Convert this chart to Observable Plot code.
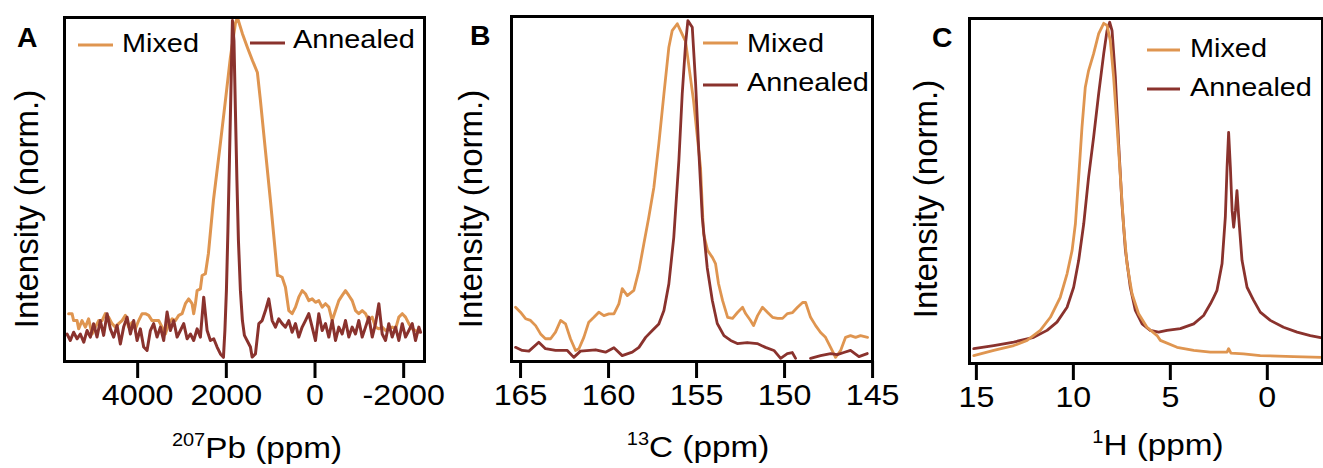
<!DOCTYPE html>
<html><head><meta charset="utf-8">
<script src="https://cdn.jsdelivr.net/npm/d3@7"></script>
<script src="https://cdn.jsdelivr.net/npm/@observablehq/plot@0.6"></script>
<style>
body{margin:0;background:#fff;overflow:hidden}
#fig{position:relative;width:1323px;height:468px}
#fig svg{position:absolute;top:0;overflow:visible}
</style>
</head><body><div id="fig"></div>
<script>
// ---------- data (ppm, normalized intensity) ----------
const seriesNames = ["Mixed", "Annealed"];
const pbTicks = [4000, 2000, 0, -2000];
const cTicks = [165, 160, 155, 150, 145];
const hTicks = [15, 10, 5, 0];

const pbMixed = [[5467,0.139],[5390,0.139],[5354,0.119],[5277,0.119],[5241,0.095],[5165,0.119],[5090,0.100],[5016,0.124],[4939,0.080],[4864,0.100],[4790,0.119],[4713,0.119],[4639,0.139],[4564,0.129],[4488,0.110],[4413,0.100],[4339,0.110],[4262,0.119],[4187,0.134],[4113,0.100],[4036,0.114],[3962,0.095],[3887,0.119],[3810,0.139],[3736,0.139],[3661,0.134],[3585,0.119],[3510,0.119],[3436,0.119],[3359,0.100],[3285,0.080],[3210,0.110],[3133,0.124],[3059,0.119],[2984,0.134],[2908,0.139],[2833,0.168],[2759,0.182],[2682,0.168],[2646,0.139],[2607,0.168],[2569,0.206],[2495,0.211],[2456,0.250],[2382,0.255],[2314,0.314],[2201,0.468],[2044,0.634],[1930,0.759],[1818,0.884],[1705,0.983],[1660,1.000],[1547,0.953],[1434,0.913],[1321,0.875],[1209,0.840],[1141,0.759],[1028,0.613],[915,0.468],[802,0.314],[757,0.250],[727,0.250],[651,0.245],[576,0.216],[501,0.148],[425,0.139],[350,0.158],[276,0.187],[199,0.206],[125,0.197],[50,0.177],[-26,0.182],[-101,0.172],[-176,0.177],[-252,0.158],[-327,0.168],[-402,0.158],[-478,0.119],[-553,0.148],[-627,0.177],[-704,0.192],[-778,0.206],[-853,0.192],[-929,0.177],[-1004,0.148],[-1078,0.139],[-1155,0.148],[-1230,0.139],[-1304,0.119],[-1381,0.129],[-1455,0.100],[-1530,0.095],[-1606,0.100],[-1681,0.090],[-1755,0.095],[-1832,0.100],[-1907,0.095],[-1981,0.129],[-2058,0.139],[-2132,0.129],[-2207,0.110],[-2283,0.095],[-2357,0.090],[-2432,0.085]];

const pbAnnealed = [[5503,0.080],[5429,0.061],[5354,0.085],[5277,0.066],[5203,0.080],[5126,0.056],[5052,0.090],[4977,0.071],[4903,0.110],[4826,0.071],[4752,0.119],[4677,0.076],[4600,0.139],[4526,0.095],[4451,0.071],[4375,0.105],[4300,0.051],[4226,0.100],[4149,0.129],[4074,0.080],[4000,0.119],[3923,0.061],[3849,0.095],[3774,0.042],[3698,0.032],[3623,0.090],[3549,0.110],[3472,0.071],[3397,0.100],[3323,0.061],[3246,0.144],[3172,0.090],[3097,0.119],[3020,0.071],[2946,0.090],[2871,0.110],[2795,0.066],[2720,0.080],[2646,0.061],[2569,0.095],[2495,0.071],[2420,0.187],[2343,0.090],[2269,0.061],[2194,0.066],[2118,0.042],[2043,0.022],[1975,0.012],[1942,0.090],[1908,0.206],[1874,0.381],[1840,0.584],[1806,0.788],[1772,0.991],[1738,0.933],[1705,0.730],[1671,0.526],[1637,0.352],[1592,0.206],[1547,0.119],[1502,0.076],[1366,0.042],[1328,0.013],[1253,0.022],[1177,0.110],[1102,0.119],[1027,0.148],[953,0.182],[876,0.119],[802,0.100],[727,0.124],[651,0.110],[576,0.100],[501,0.119],[425,0.085],[350,0.110],[276,0.071],[199,0.100],[125,0.119],[50,0.139],[-26,0.100],[-101,0.061],[-176,0.139],[-252,0.090],[-327,0.110],[-402,0.071],[-478,0.119],[-553,0.061],[-627,0.100],[-704,0.080],[-778,0.119],[-853,0.071],[-929,0.100],[-1004,0.080],[-1078,0.119],[-1155,0.071],[-1230,0.100],[-1304,0.129],[-1381,0.071],[-1455,0.110],[-1530,0.168],[-1606,0.080],[-1681,0.061],[-1755,0.110],[-1832,0.071],[-1907,0.100],[-1981,0.061],[-2058,0.110],[-2132,0.071],[-2207,0.090],[-2283,0.110],[-2357,0.061],[-2432,0.100],[-2471,0.085]];

const cMixed = [[165.00,0.157],[164.72,0.143],[164.43,0.124],[164.15,0.119],[163.86,0.104],[163.58,0.080],[163.30,0.066],[163.01,0.066],[162.73,0.085],[162.44,0.119],[162.16,0.109],[161.88,0.066],[161.59,0.032],[161.40,0.037],[161.12,0.070],[160.84,0.114],[160.55,0.128],[160.27,0.143],[159.98,0.133],[159.70,0.138],[159.41,0.138],[159.13,0.167],[158.94,0.211],[158.65,0.191],[158.28,0.206],[157.99,0.264],[157.71,0.341],[157.43,0.418],[157.14,0.505],[156.86,0.631],[156.57,0.776],[156.29,0.911],[156.10,0.959],[155.81,0.979],[155.63,0.959],[155.34,0.928],[154.89,0.757],[154.49,0.562],[154.32,0.371],[154.09,0.322],[153.81,0.301],[153.64,0.284],[153.47,0.226],[153.24,0.177],[152.95,0.128],[152.67,0.125],[152.39,0.142],[152.10,0.157],[151.93,0.139],[151.65,0.119],[151.48,0.104],[151.25,0.133],[150.97,0.157],[150.68,0.142],[150.40,0.128],[150.11,0.125],[149.83,0.125],[149.55,0.139],[149.26,0.142],[148.98,0.157],[148.69,0.171],[148.52,0.171],[148.24,0.128],[147.95,0.104],[147.67,0.084],[147.39,0.070],[147.10,0.041],[146.82,0.012],[146.53,0.032],[146.25,0.070],[145.97,0.075],[145.68,0.070],[145.40,0.075],[145.00,0.070]];

const cAnnealed = [[165.00,0.041],[164.62,0.032],[164.24,0.030],[163.68,0.056],[163.30,0.037],[162.73,0.032],[162.06,0.032],[161.69,0.012],[161.31,0.030],[160.45,0.034],[159.89,0.027],[159.41,0.040],[158.94,0.017],[158.37,0.027],[157.99,0.041],[157.61,0.070],[157.23,0.090],[156.86,0.109],[156.57,0.148],[156.29,0.225],[156.01,0.360],[155.72,0.583],[155.53,0.776],[155.34,0.921],[155.21,0.988],[154.96,0.969],[154.77,0.806],[154.59,0.612],[154.39,0.417],[154.11,0.272],[153.82,0.177],[153.54,0.110],[153.16,0.075],[152.78,0.061],[152.40,0.052],[151.84,0.055],[151.27,0.052],[150.80,0.041],[150.32,0.032],[149.94,0.009],[149.56,0.023],[149.28,0.026],[149.09,0.009],[148.70,null],[148.24,0.009],[147.67,0.017],[147.10,0.023],[146.72,0.020],[146.35,0.026],[145.97,0.032],[145.49,0.014],[145.02,0.023]];

const hMixed = [[14.98,0.023],[13.95,0.038],[12.92,0.052],[12.23,0.067],[11.55,0.096],[11.03,0.134],[10.52,0.192],[10.17,0.260],[9.91,0.328],[9.74,0.405],[9.57,0.540],[9.40,0.685],[9.23,0.801],[9.06,0.849],[8.80,0.898],[8.54,0.956],[8.28,0.986],[8.11,0.980],[7.94,0.936],[7.77,0.830],[7.59,0.685],[7.42,0.540],[7.25,0.395],[7.08,0.289],[6.82,0.202],[6.48,0.144],[6.05,0.105],[5.53,0.081],[5.36,0.067],[4.50,0.047],[3.64,0.038],[2.78,0.033],[1.92,0.033],[1.84,0.043],[1.72,0.030],[1.07,0.028],[0.21,0.023],[-1.51,0.020],[-2.97,0.018]];

const hAnnealed = [[14.98,0.043],[13.95,0.052],[12.92,0.062],[11.89,0.076],[11.20,0.096],[10.69,0.120],[10.17,0.163],[9.83,0.221],[9.57,0.299],[9.31,0.405],[9.06,0.540],[8.80,0.656],[8.54,0.782],[8.28,0.898],[8.11,0.965],[7.97,0.989],[7.85,0.965],[7.68,0.830],[7.51,0.637],[7.34,0.463],[7.16,0.328],[6.91,0.221],[6.65,0.154],[6.30,0.115],[5.88,0.096],[5.45,0.091],[5.02,0.096],[4.33,0.101],[3.64,0.115],[3.13,0.139],[2.78,0.173],[2.61,0.192],[2.44,0.212],[2.18,0.289],[2.01,0.424],[1.92,0.569],[1.84,0.670],[1.75,0.569],[1.66,0.443],[1.58,0.395],[1.49,0.443],[1.41,0.501],[1.32,0.424],[1.15,0.299],[0.89,0.221],[0.63,0.192],[0.55,0.183],[0.21,0.149],[-0.31,0.125],[-0.99,0.105],[-1.69,0.091],[-2.37,0.081],[-2.97,0.074]];

// ---------- style ----------
const ORANGE = "#DF9550";
const DARK = "#8A322D";
const FONT = "'Liberation Sans', Arial, Helvetica, sans-serif";
const SX = 1.11; // horizontal stretch of the reference lettering

const panels = [
  {id:"A", left:0, width:440, mL:64, mR:16, mT:17, mB:107, xDomain:[5560,-2560], ticks:pbTicks,
   mixed:pbMixed, annealed:pbAnnealed, mixedOnTop:false, lw:3, tdx:4,
   letter:[17,47], ylab:[38,209], xlab:[257,458,"207","Pb (ppm)"],
   legend:[[78,113,45,122,52],[250,285,43,293,48]]},
  {id:"B", left:440, width:460, mL:71, mR:28, mT:16, mB:107, xDomain:[165.23,144.72], ticks:cTicks,
   mixed:cMixed, annealed:cAnnealed, mixedOnTop:false, lw:2.8, tdx:5,
   letter:[30,45], ylab:[42,209], xlab:[258,457,"13","C (ppm)"],
   legend:[[263,298,43,307,52],[263,298,85,307,91]]},
  {id:"C", left:900, width:423, mL:69, mR:1, mT:18, mB:105, xDomain:[15.2,-3], ticks:hTicks,
   mixed:hMixed, annealed:hAnnealed, mixedOnTop:true, lw:2.8, tdx:3,
   letter:[32,47], ylab:[37,199], xlab:[258,455,"1","H (ppm)"],
   legend:[[247,280,50,290,57],[247,280,89,290,96]]}
];

const rows = pairs => pairs.map(([x, y]) => ({x, y}));
const fig = document.getElementById("fig");

for (const p of panels) {
  const mixedLine = Plot.line(rows(p.mixed), {x:"x", y:"y", stroke:ORANGE, strokeWidth:p.lw});
  const annLine = Plot.line(rows(p.annealed), {x:"x", y:"y", stroke:DARK, strokeWidth:p.lw});
  const svg = Plot.plot({
    width: p.width, height: 468,
    marginLeft: p.mL, marginRight: p.mR, marginTop: p.mT, marginBottom: p.mB,
    style: {fontFamily: FONT, background: "transparent", overflow: "visible", color: "black"},
    x: {domain: p.xDomain},
    y: {domain: [0, 1], axis: null},
    marks: [
      p.mixedOnTop ? annLine : mixedLine,
      p.mixedOnTop ? mixedLine : annLine,
      Plot.frame({stroke: "black", strokeWidth: 3}),
      Plot.axisX({ticks: p.ticks, tickSize: 17, tickPadding: 6, strokeWidth: 3, fontSize: 29,
                  fill: "black", dx: p.tdx, tickFormat: d => String(d), label: null})
    ]
  });
  svg.style.left = p.left + "px";
  const s = d3.select(svg);
  // stretch tick labels horizontally like the reference lettering
  s.selectAll('g[aria-label="x-axis tick label"] text').each(function() {
    const t = this.getAttribute("transform") || "";
    this.setAttribute("transform", t + ` scale(${SX},1)`);
  });
  // panel letter
  s.append("text").attr("transform", `translate(${p.letter[0]},${p.letter[1]}) scale(1.05,1)`)
    .attr("text-anchor", "start")
    .attr("font-family", FONT).attr("font-size", 27).attr("font-weight", "bold").attr("fill", "black")
    .text(p.id);
  // y label
  s.append("text").attr("transform", `translate(${p.ylab[0]},${p.ylab[1]}) rotate(-90)`)
    .attr("text-anchor", "middle").attr("font-family", FONT).attr("font-size", 33).attr("fill", "black")
    .text("Intensity (norm.)");
  // x label with superscript
  const xl = s.append("text").attr("transform", `translate(${p.xlab[0]},${p.xlab[1]}) scale(${SX},1)`)
    .attr("text-anchor", "middle").attr("font-family", FONT).attr("fill", "black");
  xl.append("tspan").attr("font-size", 18).attr("dy", -12).text(p.xlab[2]);
  xl.append("tspan").attr("font-size", 30).attr("dy", 12).text(p.xlab[3]);
  // legend
  const colors = [ORANGE, DARK];
  p.legend.forEach((L, i) => {
    s.append("line").attr("x1", L[0]).attr("x2", L[1]).attr("y1", L[2]).attr("y2", L[2])
      .attr("stroke", colors[i]).attr("stroke-width", 3);
    s.append("text").attr("transform", `translate(${L[3]},${L[4]}) scale(${SX},1)`)
      .attr("text-anchor", "start").attr("font-family", FONT)
      .attr("font-size", 26).attr("fill", "black").text(seriesNames[i]);
  });
  fig.appendChild(svg);
}
</script></body></html>
